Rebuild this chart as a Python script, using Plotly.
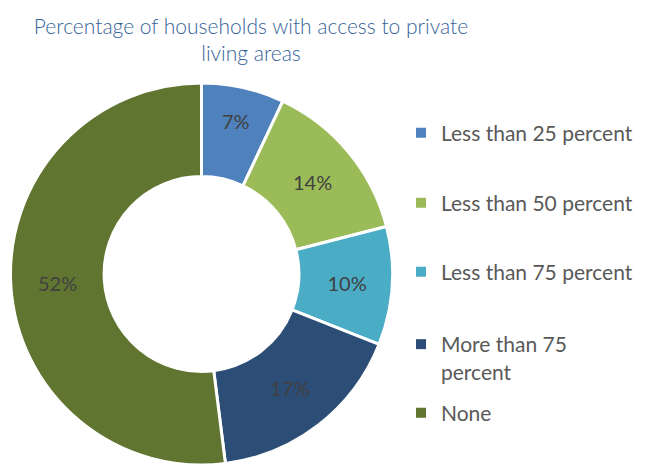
import plotly.graph_objects as go

categories = ["Less than 25 percent", "Less than 50 percent", "Less than 75 percent",
              "More than 75 percent", "None"]
legend_labels = ["Less than 25 percent", "Less than 50 percent", "Less than 75 percent",
                 "More than 75<br>percent", "None"]
values = [7, 14, 10, 17, 52]
colors = ["#4F81BD", "#9BBB59", "#4BACC6", "#2C4D75", "#5F7530"]
title_text = "Percentage of households with access to private<br>living areas"

W, H = 645, 464
OFF = 8  # page body margin in the browser
FONT = "Lato"

def fx(px):
    return (px - OFF) / W

def fy(py):
    return 1 - (py - OFF) / H

fig = go.Figure()
fig.add_trace(go.Pie(
    labels=categories, values=values, sort=False, direction="clockwise", hole=0.51,
    marker=dict(colors=colors, line=dict(color="white", width=3)),
    texttemplate="%{percent:.0%}", textposition="inside", insidetextorientation="horizontal",
    textfont=dict(family=FONT, size=20, color="#404040"),
    domain=dict(x=[fx(10), fx(393)], y=[fy(465), fy(83)]),
    showlegend=False, hoverinfo="label+percent",
))

legend_centers = [133, 203, 272, 358, 413]
layout_legends = {}
for i, (lab, col) in enumerate(zip(legend_labels, colors)):
    key = "legend" if i == 0 else f"legend{i + 1}"
    fig.add_trace(go.Scatter(
        x=[None], y=[None], mode="markers", name=lab, legend=key,
        marker=dict(symbol="square", size=10, color=col),
        showlegend=True, hoverinfo="skip",
    ))
    multi = "<br>" in lab
    layout_legends[key] = dict(
        x=fx(401), xanchor="left",
        y=fy(legend_centers[i]), yanchor="middle",
        valign="top" if multi else "middle",
        bgcolor="rgba(0,0,0,0)", borderwidth=0,
        font=dict(family=FONT, size=21, color="#595959"),
        itemclick=False, itemdoubleclick=False,
    )

fig.update_layout(
    width=W, height=H,
    margin=dict(l=0, r=0, t=0, b=0),
    paper_bgcolor="white", plot_bgcolor="white",
    title=dict(text=title_text, x=fx(251), xanchor="center",
               y=1 - 26 / H, yref="container", yanchor="top",
               font=dict(family=FONT, size=21, color="#36639A", weight=300)),
    xaxis=dict(visible=False), yaxis=dict(visible=False),
    **layout_legends,
)

fig.write_html("out.html")
